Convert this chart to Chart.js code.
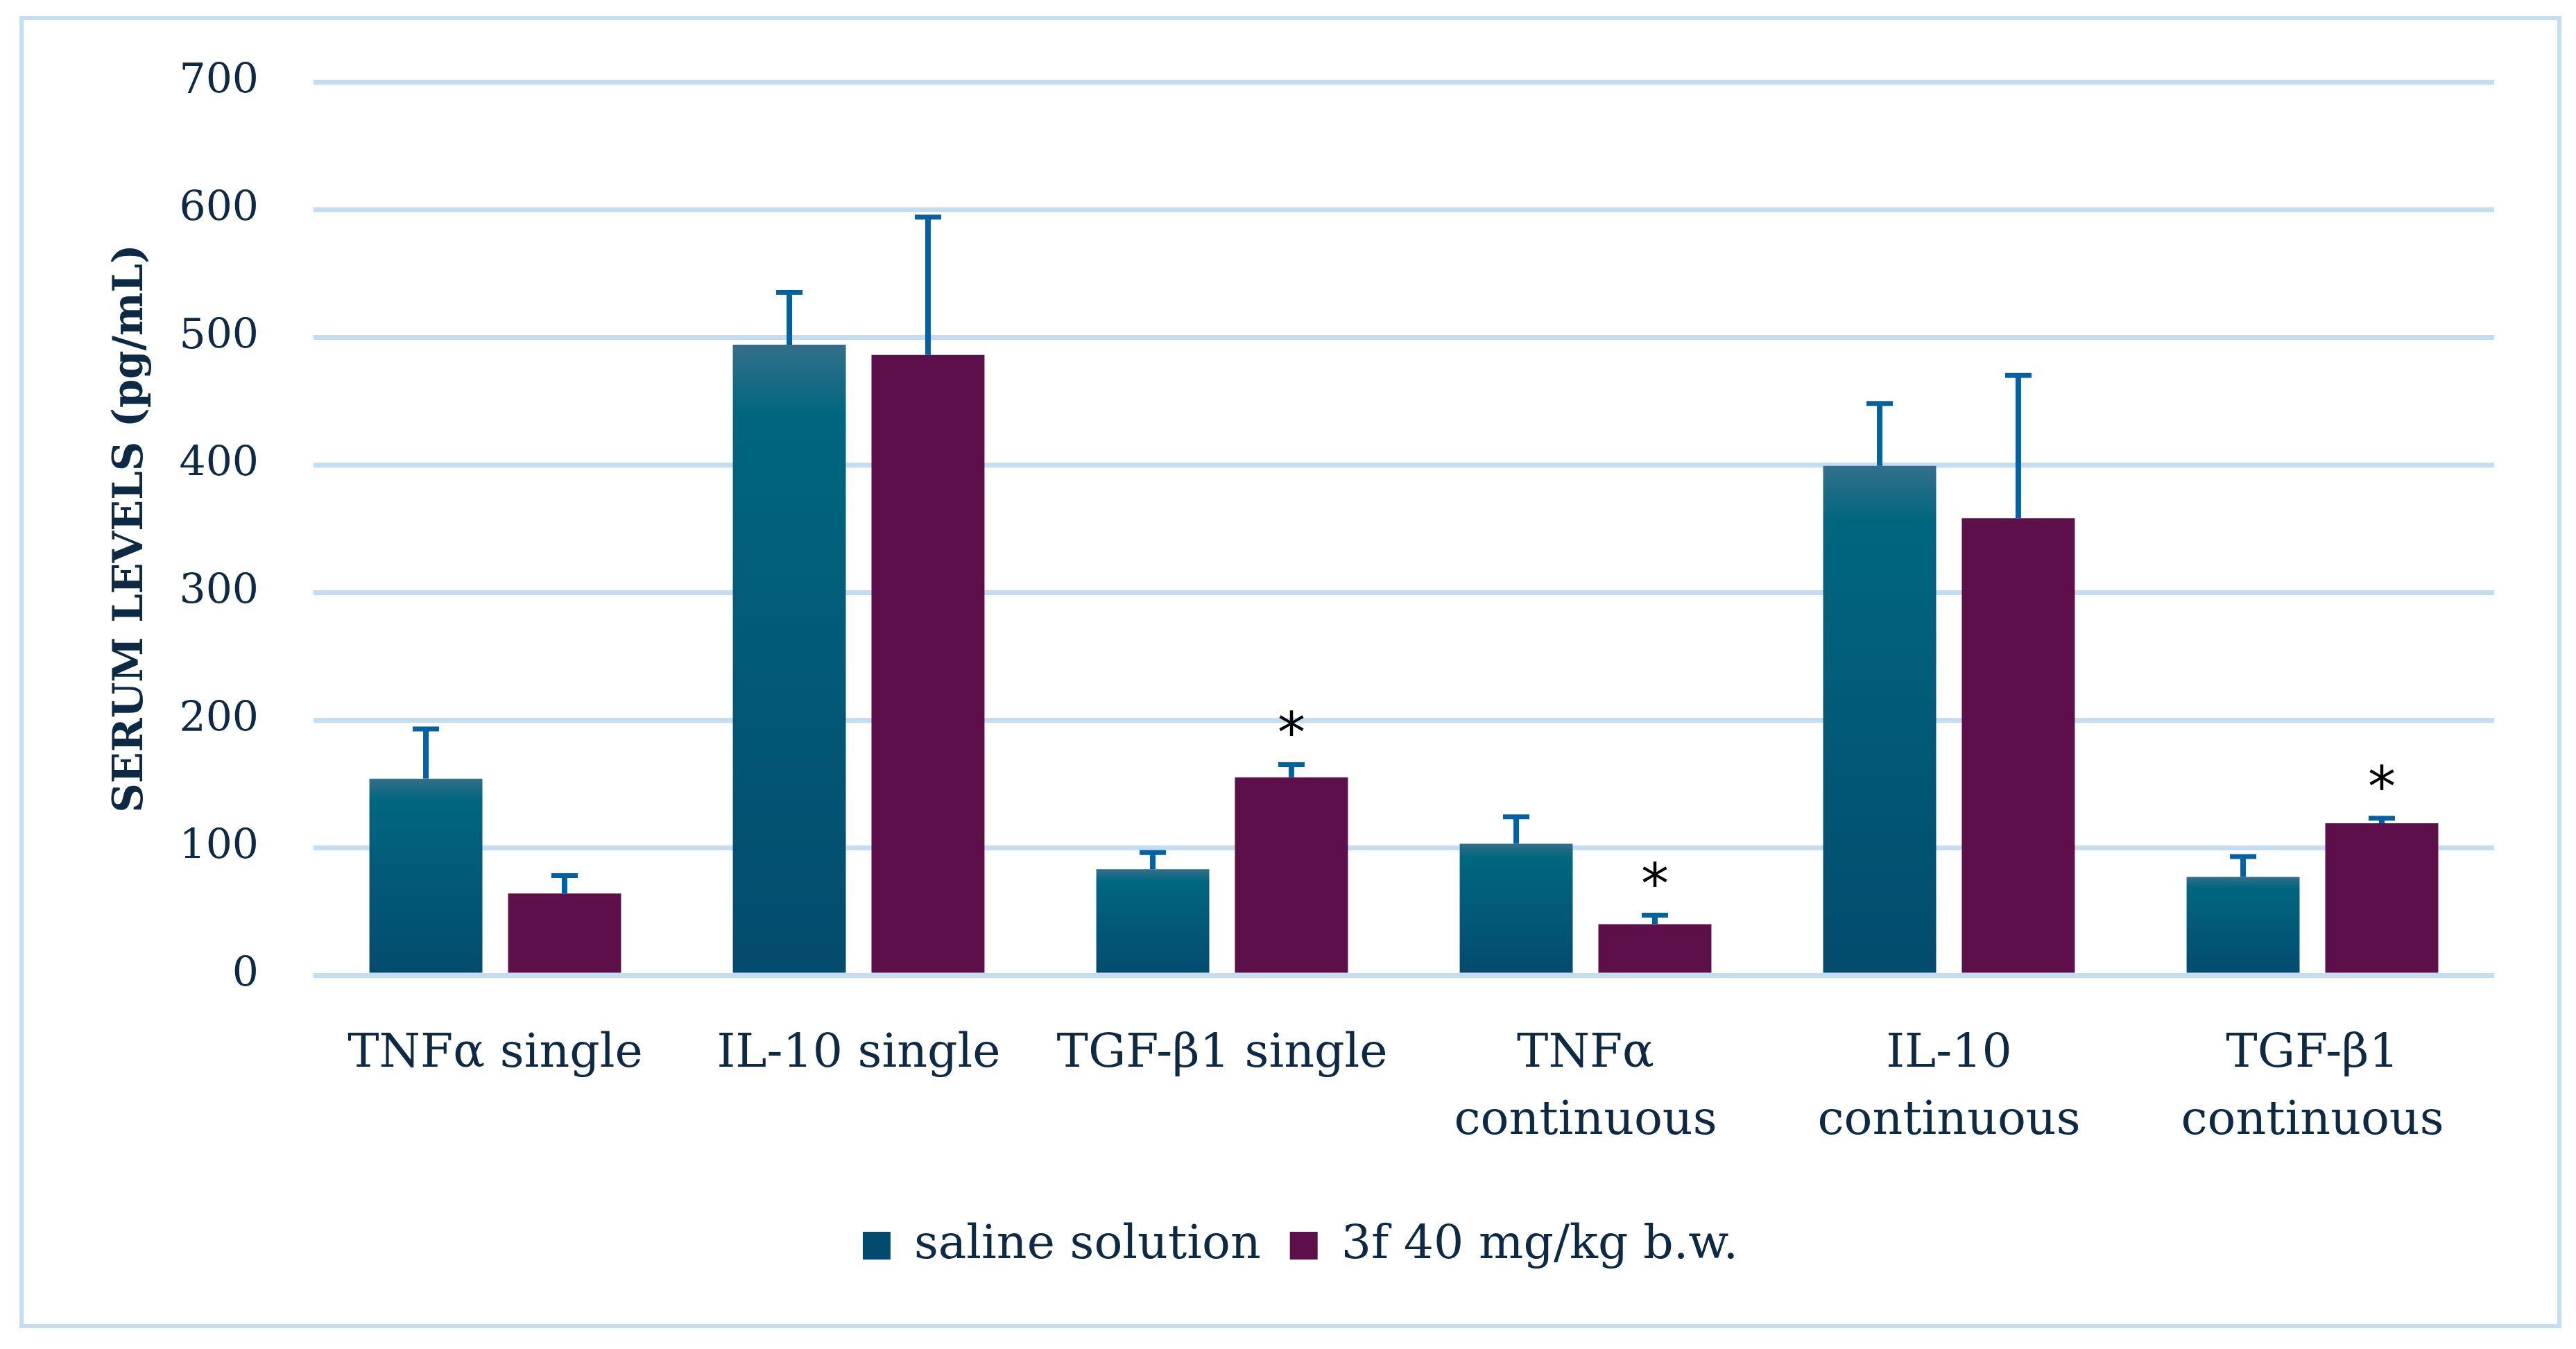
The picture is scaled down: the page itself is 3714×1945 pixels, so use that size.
<!DOCTYPE html>
<html>
<head>
<meta charset="utf-8">
<script src="https://cdn.jsdelivr.net/npm/chart.js@4.4.1/dist/chart.umd.min.js"></script>
<style>
  html, body { margin: 0; padding: 0; background: #fff; }
  #box {
    position: absolute; left: 28px; top: 23px;
    width: 3653px; height: 1880px;
    border: 6px solid #C3DEF2;
  }
</style>
</head>
<body>
<div id="box"><canvas id="chart"></canvas></div>
<script>
// データ
const categories = [
  ['TNFα single'], ['IL-10 single'], ['TGF-β1 single'],
  ['TNFα', 'continuous'], ['IL-10', 'continuous'], ['TGF-β1', 'continuous']
];
const salineValues = [154, 494, 83, 103, 399, 77];
const salineErrors = [39, 41, 13, 21, 49, 16];
const drugValues = [64, 486, 155, 40, 358, 119];
const drugErrors = [14, 108, 10, 7, 112, 4];
const drugSignificant = [false, false, true, true, false, true];
const yTicks = [0, 100, 200, 300, 400, 500, 600, 700];

const navy = '#0C2A45';
const serif = 'DejaVu Serif';

// saline の棒グラデーション
function salineFill(ctx) {
  const chart = ctx.chart;
  if (!chart.chartArea || ctx.type !== 'data') return '#015A7A';
  const y = chart.scales.y;
  const top = y.getPixelForValue(ctx.raw);
  const base = y.getPixelForValue(0);
  const g = chart.ctx.createLinearGradient(0, top, 0, base);
  g.addColorStop(0, '#336F89');
  g.addColorStop(0.11, '#00667F');
  g.addColorStop(1, '#034B6E');
  return g;
}

// エラーバーと有意差マーク
const errorBars = {
  id: 'errorBars',
  afterDatasetsDraw(chart) {
    const c = chart.ctx;
    const y = chart.scales.y;
    chart.data.datasets.forEach((ds, i) => {
      const meta = chart.getDatasetMeta(i);
      meta.data.forEach((bar, j) => {
        const y1 = y.getPixelForValue(ds.data[j]);
        const y2 = y.getPixelForValue(ds.data[j] + ds.errors[j]);
        c.save();
        c.strokeStyle = '#0062A2';
        c.lineWidth = 8;
        c.beginPath();
        c.moveTo(bar.x, y1);
        c.lineTo(bar.x, y2);
        c.stroke();
        c.lineWidth = 7;
        c.beginPath();
        c.moveTo(bar.x - 19, y2);
        c.lineTo(bar.x + 19, y2);
        c.stroke();
        if (ds.significant && ds.significant[j]) {
          c.fillStyle = '#000';
          c.font = '80px "DejaVu Sans"';
          c.textAlign = 'center';
          c.textBaseline = 'alphabetic';
          c.fillText('*', bar.x, y2 - 18);
        }
        c.restore();
      });
    });
  }
};

new Chart(document.getElementById('chart'), {
  type: 'bar',
  data: {
    labels: categories,
    datasets: [
      { label: 'saline solution', data: salineValues, errors: salineErrors,
        backgroundColor: salineFill, categoryPercentage: 0.763, barPercentage: 0.815 },
      { label: '3f 40 mg/kg b.w.', data: drugValues, errors: drugErrors, significant: drugSignificant,
        backgroundColor: '#5D0F4A', categoryPercentage: 0.763, barPercentage: 0.815 }
    ]
  },
  options: {
    responsive: true,
    maintainAspectRatio: false,
    animation: false,
    layout: { padding: { top: 89, right: 91, left: 120, bottom: 69 } },
    plugins: {
      tooltip: { enabled: false },
      legend: {
        position: 'bottom',
        labels: {
          font: { family: serif, size: 68 },
          color: navy,
          boxWidth: 40,
          boxHeight: 40,
          padding: 42
        }
      }
    },
    scales: {
      x: {
        grid: { display: false },
        border: { display: false },
        ticks: { font: { family: serif, size: 68, lineHeight: 1.42 }, color: navy, padding: 58, maxRotation: 0, autoSkip: false },
        afterFit: s => { s.height = 314; }
      },
      y: {
        min: 0,
        max: 700,
        afterBuildTicks: s => { s.ticks = yTicks.map(v => ({ value: v })); },
        grid: { color: '#C3DEF2', lineWidth: 7, drawTicks: false },
        border: { display: false },
        ticks: { font: { family: serif, size: 60 }, color: navy, padding: 79 },
        title: {
          display: true,
          text: 'SERUM LEVELS (pg/mL)',
          font: { family: serif, size: 59, weight: 'bold' },
          color: navy,
          padding: 0
        },
        afterFit: s => { s.width = 298; s.paddingTop = 0; s.paddingBottom = 0; }
      }
    }
  },
  plugins: [errorBars]
});
</script>
</body>
</html>
